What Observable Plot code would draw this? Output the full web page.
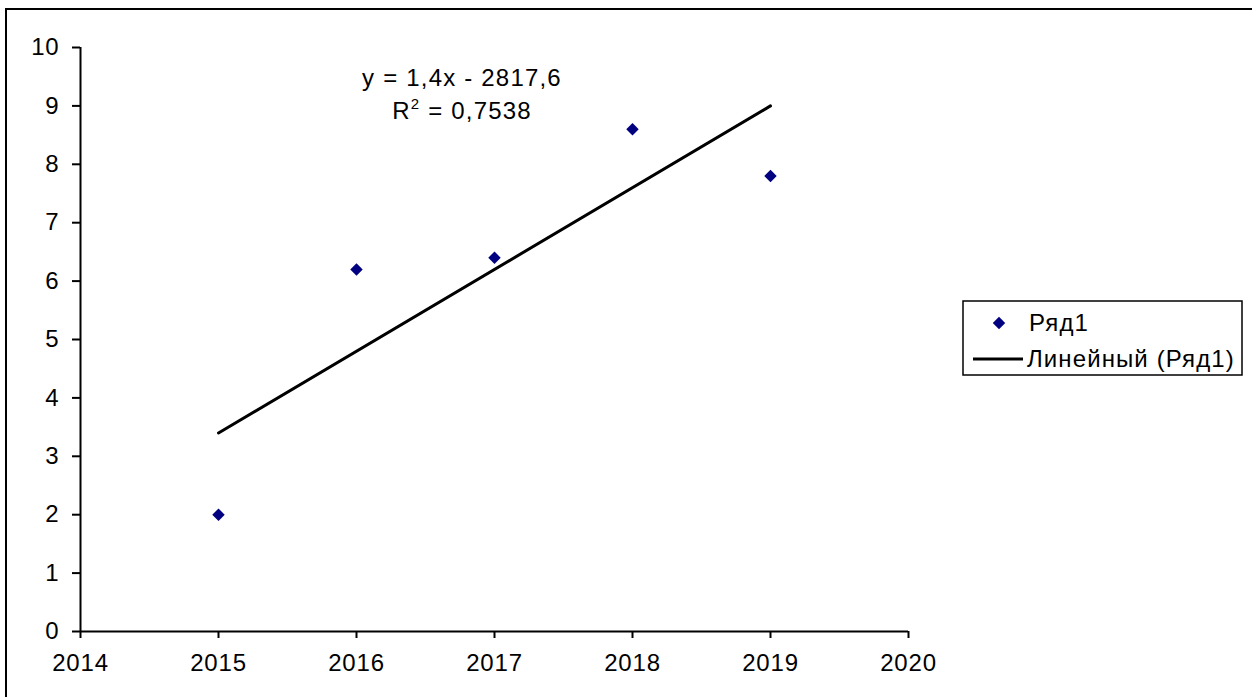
<!DOCTYPE html>
<html>
<head>
<meta charset="utf-8">
<script src="https://cdn.jsdelivr.net/npm/d3@7"></script>
<script src="https://cdn.jsdelivr.net/npm/@observablehq/plot@0.6"></script>
<style>
  html, body { margin: 0; padding: 0; background: #fff; }
  #chart { width: 1252px; height: 697px; overflow: hidden; }
  svg { font-family: "Liberation Sans", Arial, sans-serif; }
  svg text { letter-spacing: 0.8px; }
</style>
</head>
<body>
<div id="chart"></div>
<script>
// ---- data ----
const years = [2015, 2016, 2017, 2018, 2019];
const values = [2.0, 6.2, 6.4, 8.6, 7.8];
const xTicks = [2014, 2015, 2016, 2017, 2018, 2019, 2020];
const yTicks = [0, 1, 2, 3, 4, 5, 6, 7, 8, 9, 10];
const seriesName = "Ряд1";
const trendName = "Линейный (Ряд1)";

const data = years.map((x, i) => ({x, y: values[i]}));

// regression for equation label
const mx = d3.mean(years), my = d3.mean(values);
const sxy = d3.sum(years, (x, i) => (x - mx) * (values[i] - my));
const sxx = d3.sum(years, x => (x - mx) ** 2);
const slope = sxy / sxx;
const intercept = my - slope * mx;
const ssTot = d3.sum(values, v => (v - my) ** 2);
const ssRes = d3.sum(years, (x, i) => (values[i] - (intercept + slope * x)) ** 2);
const r2 = 1 - ssRes / ssTot;
const fmt = (v, d) => v.toFixed(d).replace(".", ",");
const eqText = `y = ${fmt(slope, 1)}x ${intercept < 0 ? "-" : "+"} ${fmt(Math.abs(intercept), 1)}`;
const r2Text = fmt(r2, 4);

const W = 1252, H = 697;
const FS = 24;

const plot = Plot.plot({
  width: W,
  height: H,
  marginLeft: 80,
  marginRight: 344,
  marginTop: 47,
  marginBottom: 66,
  style: {fontFamily: "Liberation Sans, Arial, sans-serif", fontSize: FS + "px", color: "#000", background: "#fff"},
  x: {domain: [2014, 2020], ticks: xTicks, tickFormat: d => String(d)},
  y: {domain: [0, 10], ticks: yTicks},
  marks: [
    Plot.axisX({ticks: xTicks, tickFormat: d => String(d), tickSize: 7, tickPadding: 15, strokeWidth: 2, fontSize: FS, label: null}),
    Plot.axisY({ticks: yTicks, tickSize: 8, tickPadding: 13, strokeWidth: 2, fontSize: FS, label: null}),
    Plot.ruleY([0], {stroke: "#000", strokeWidth: 2}),
    Plot.ruleX([2014], {stroke: "#000", strokeWidth: 2}),
    Plot.linearRegressionY(data, {x: "x", y: "y", ci: 0, stroke: "#000", strokeWidth: 3}),
    Plot.dot(data, {x: "x", y: "y", symbol: "diamond2", r: 5.6, fill: "#000080", stroke: "none"})
  ]
});

const svg = d3.select(plot);
// outer chart border
svg.append("rect").attr("x", 6).attr("y", 9).attr("width", W + 10).attr("height", H + 10)
  .attr("fill", "none").attr("stroke", "#000").attr("stroke-width", 2);

// equation annotation
svg.append("text").attr("text-anchor", "middle").attr("font-size", FS).attr("fill", "#000")
  .style("letter-spacing", "1.2px")
  .attr("x", 462).attr("y", 86).text(eqText);
const r2t = svg.append("text").attr("text-anchor", "middle").attr("font-size", FS).attr("fill", "#000")
  .style("letter-spacing", "1.2px")
  .attr("x", 462).attr("y", 119);
r2t.append("tspan").text("R");
r2t.append("tspan").attr("font-size", 15).attr("dy", -10).text("2");
r2t.append("tspan").attr("dy", 10).text(" = " + r2Text);

// legend
const lg = svg.append("g").attr("text-anchor", "start");
lg.append("rect").attr("x", 963).attr("y", 301).attr("width", 279).attr("height", 74)
  .attr("fill", "#fff").attr("stroke", "#000").attr("stroke-width", 1.5);
lg.append("path").attr("d", d3.symbol(d3.symbolDiamond2, Math.PI * 5.6 * 5.6)())
  .attr("transform", "translate(999,323)").attr("fill", "#000080");
lg.append("text").attr("text-anchor", "start").attr("x", 1029).attr("y", 323).attr("dy", "0.35em")
  .attr("font-size", FS).style("letter-spacing", "1.1px").text(seriesName);
lg.append("line").attr("x1", 973).attr("x2", 1023).attr("y1", 359).attr("y2", 359)
  .attr("stroke", "#000").attr("stroke-width", 3);
lg.append("text").attr("text-anchor", "start").attr("x", 1027).attr("y", 359).attr("dy", "0.35em")
  .attr("font-size", FS).style("letter-spacing", "1.1px").text(trendName);

document.getElementById("chart").appendChild(plot);
</script>
</body>
</html>
